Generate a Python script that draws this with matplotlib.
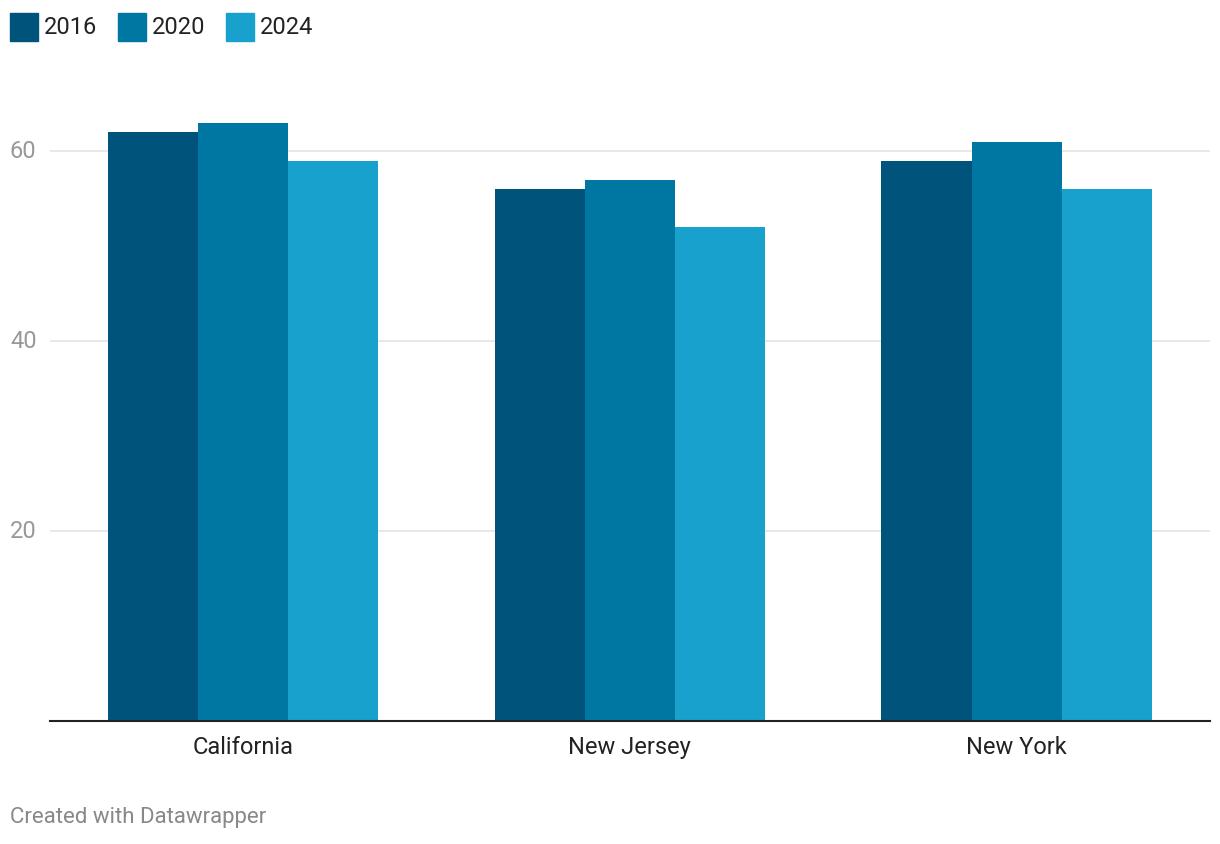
import numpy as np
import matplotlib.pyplot as plt
from matplotlib.patches import Rectangle

plt.rcParams['font.family'] = ['Roboto', 'DejaVu Sans']

states = ["California", "New Jersey", "New York"]
years = ["2016", "2020", "2024"]
vals_2016 = [62, 56, 59]
vals_2020 = [63, 57, 61]
vals_2024 = [59, 52, 56]
colors = ["#00537a", "#0077a3", "#18a1cd"]

W, H = 1220, 844
fig = plt.figure(figsize=(W / 100, H / 100), dpi=100)
ax = fig.add_axes([49.5 / W, 1 - 721 / H, (1210 - 49.5) / W, (721 - 56) / H])

x = np.arange(len(states))
bw = 0.233
series = [vals_2016, vals_2020, vals_2024]
for i, vals in enumerate(series):
    ax.bar(x + (i - 1) * bw, vals, width=bw, color=colors[i], zorder=3, linewidth=0)

ax.set_xlim(-0.5, 2.5)
ax.set_ylim(0, 70)
ax.set_yticks([20, 40, 60])
ax.grid(axis='y', color='#e6e6e6', linewidth=1.3, zorder=0)
for s in ['top', 'right', 'left']:
    ax.spines[s].set_visible(False)
ax.spines['bottom'].set_color('#222222')
ax.spines['bottom'].set_linewidth(1.5)
ax.spines['bottom'].set_zorder(4)
ax.tick_params(axis='y', length=0, labelsize=17, labelcolor='#999999', pad=0)
ax.tick_params(axis='x', length=0, labelsize=17, labelcolor='#222222', pad=11)
ax.set_xticks(x)
ax.set_xticklabels(states)
for lab in ax.get_yticklabels():
    lab.set_horizontalalignment('left')
    lab.set_verticalalignment('center')
    lab.set_x(-39.5 / (1210 - 49.5))

# legend
lx = [10, 118, 226]
for i, yr in enumerate(years):
    fig.patches.append(Rectangle((lx[i] / W, 1 - 41 / H), 28 / W, 28 / H,
                                 transform=fig.transFigure, color=colors[i]))
    fig.text((lx[i] + 34) / W, 1 - 27 / H, yr, fontsize=17, color='#222222', va='center')

fig.text(10 / W, 1 - 818 / H, "Created with Datawrapper", fontsize=16, color='#888888', va='center')

plt.savefig("out.png", dpi=100)
